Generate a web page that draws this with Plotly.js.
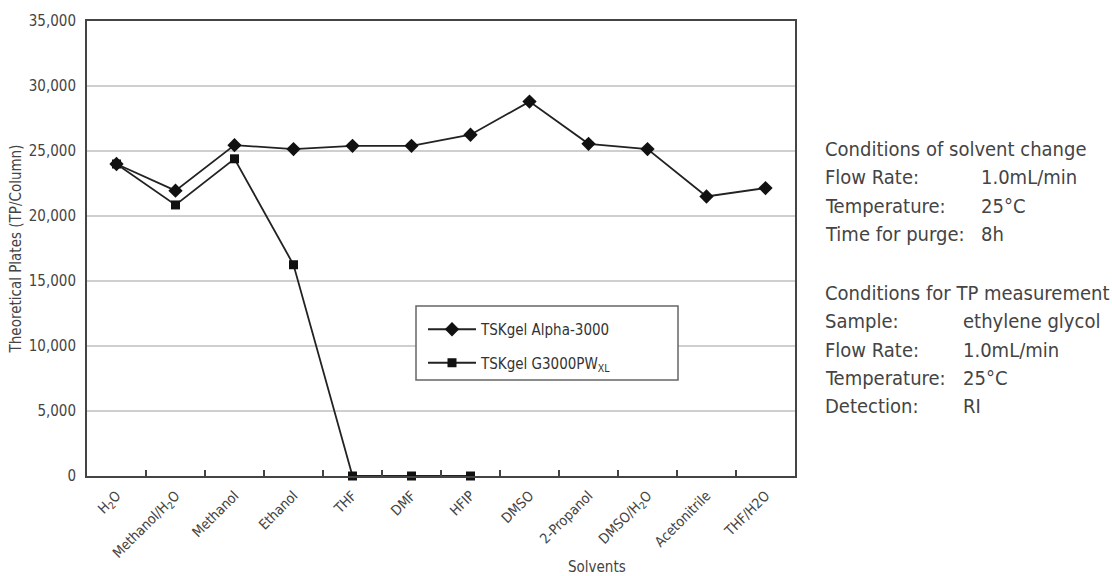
<!DOCTYPE html>
<html>
<head>
<meta charset="utf-8">
<script src="https://cdn.plot.ly/plotly-3.0.1.min.js"></script>
<style>
  html, body { margin: 0; padding: 0; background: #ffffff; }
  #chart { width: 1112px; height: 576px; }
</style>
</head>
<body>
<div id="chart"></div>
<script>
// ---- data ----
const solvents = ["H<sub>2</sub>O", "Methanol/H<sub>2</sub>O", "Methanol", "Ethanol", "THF", "DMF", "HFIP", "DMSO", "2-Propanol", "DMSO/H<sub>2</sub>O", "Acetonitrile", "THF/H2O"];
const alpha3000 = [24000, 21950, 25450, 25150, 25400, 25400, 26250, 28800, 25550, 25150, 21500, 22150];
const g3000Solvents = ["H<sub>2</sub>O", "Methanol/H<sub>2</sub>O", "Methanol", "Ethanol", "THF", "DMF", "HFIP"];
const g3000pwxl = [24000, 20850, 24400, 16250, 0, 0, 0];
const seriesNames = ["TSKgel Alpha-3000", "TSKgel G3000PW<sub>XL</sub>"];
const xTitle = "Solvents";
const yTitle = "Theoretical Plates (TP/Column)";
const condSolventChange = [["Flow Rate:", "1.0mL/min"], ["Temperature:", "25°C"], ["Time for purge:", "8h"]];
const condTP = [["Sample:", "ethylene glycol"], ["Flow Rate:", "1.0mL/min"], ["Temperature:", "25°C"], ["Detection:", "RI"]];

// ---- layout helpers (pixel -> paper) ----
const W = 1112, H = 576;
const M = {l: 87, r: 317, t: 21, b: 100};
const PW = W - M.l - M.r, PH = H - M.t - M.b;
const px = x => (x - M.l) / PW;
const py = y => (H - M.b - y) / PH;

const FONT = "Liberation Sans Narrow, DejaVu Sans Condensed, Arial Narrow, sans-serif";
const TXT = "#444444";

const traces = [
  {
    x: solvents, y: alpha3000, name: seriesNames[0], type: "scatter", mode: "lines+markers",
    line: {color: "#222222", width: 1.8},
    marker: {symbol: "diamond", size: 11, color: "#111111"},
    cliponaxis: false, legendgroup: "a"
  },
  {
    x: g3000Solvents, y: g3000pwxl, name: seriesNames[1], type: "scatter", mode: "lines+markers",
    line: {color: "#222222", width: 1.8},
    marker: {symbol: "square", size: 9, color: "#111111"},
    cliponaxis: false, legendgroup: "b"
  }
];

const RFS = 20;
const annotations = [];
function addBlock(title, rows, yStart, valX) {
  const step = 28.3;
  annotations.push({xref: "paper", yref: "paper", x: px(823), y: py(yStart), xanchor: "left", yanchor: "middle",
    text: title, showarrow: false, font: {family: FONT, size: RFS, color: TXT}});
  rows.forEach((r, i) => {
    const yy = py(yStart + step * (i + 1));
    annotations.push({xref: "paper", yref: "paper", x: px(823), y: yy, xanchor: "left", yanchor: "middle",
      text: r[0], showarrow: false, font: {family: FONT, size: RFS, color: TXT}});
    annotations.push({xref: "paper", yref: "paper", x: px(valX), y: yy, xanchor: "left", yanchor: "middle",
      text: r[1], showarrow: false, font: {family: FONT, size: RFS, color: TXT}});
  });
}
addBlock("Conditions of solvent change", condSolventChange, 149, 979);
addBlock("Conditions for TP measurement", condTP, 293, 961);

// x axis title placed where the reference shows it
annotations.push({xref: "paper", yref: "paper", x: px(597), y: py(567), xanchor: "center", yanchor: "middle",
  text: xTitle, showarrow: false, font: {family: FONT, size: 15, color: TXT}});

const layout = {
  width: W, height: H,
  margin: M,
  paper_bgcolor: "#ffffff", plot_bgcolor: "#ffffff",
  font: {family: FONT, color: TXT, size: 12},
  showlegend: true,
  legend: {
    x: px(423), y: py(313), xanchor: "left", yanchor: "top",
    bgcolor: "rgba(0,0,0,0)", borderwidth: 0,
    tracegroupgap: 11, traceorder: "grouped",
    font: {family: FONT, size: 15, color: "#333333"},
    itemwidth: 48
  },
  shapes: [{
    type: "rect", xref: "paper", yref: "paper", layer: "above",
    x0: px(416), x1: px(678), y0: py(380), y1: py(306),
    line: {color: "#666666", width: 1.5}, fillcolor: "#ffffff"
  }],
  xaxis: {
    type: "category", range: [-0.5, 11.5], fixedrange: true,
    showline: true, mirror: true, linecolor: "#444444", linewidth: 2,
    showgrid: false, zeroline: false,
    ticks: "inside", tickson: "boundaries", ticklen: 6, tickwidth: 2, tickcolor: "#444444",
    tickangle: -45, ticklabelstandoff: 4,
    tickfont: {family: FONT, size: 14, color: TXT}
  },
  yaxis: {
    range: [0, 35000], dtick: 5000, tickformat: ",", fixedrange: true,
    showline: true, mirror: true, linecolor: "#444444", linewidth: 2,
    showgrid: true, gridcolor: "#cfcfcf", gridwidth: 2, zeroline: false,
    ticks: "", ticklabelstandoff: 6,
    tickfont: {family: FONT, size: 15, color: TXT},
    title: {text: yTitle, font: {family: FONT, size: 15, color: TXT}, standoff: 4}
  },
  annotations: annotations
};

Plotly.newPlot("chart", traces, layout, {displayModeBar: false, staticPlot: true});
</script>
</body>
</html>
